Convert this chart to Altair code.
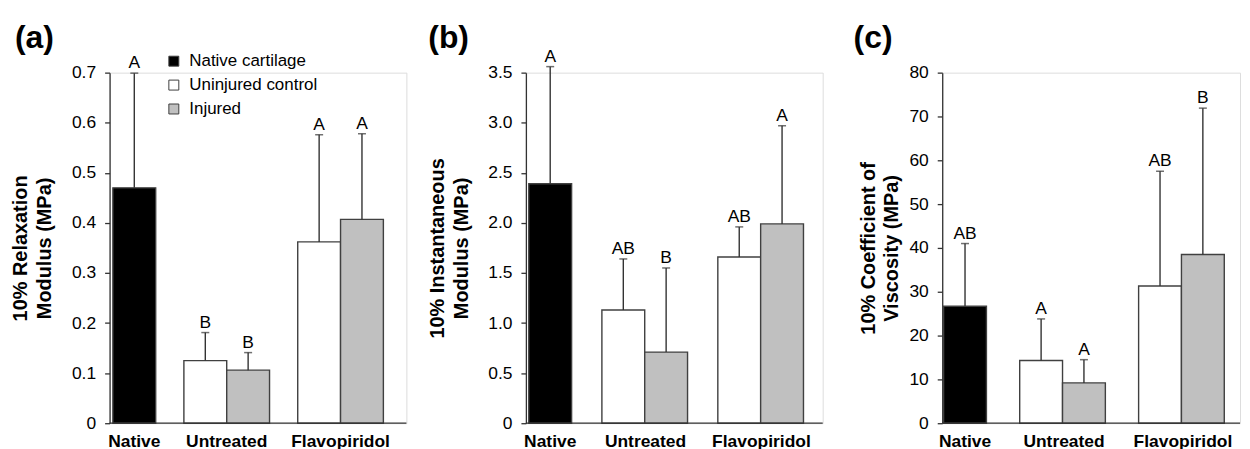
import altair as alt
import pandas as pd

FONT = "Liberation Sans"

groups = ["Native", "Untreated", "Untreated", "Flavopiridol", "Flavopiridol"]
series = ["Native cartilage", "Uninjured control", "Injured", "Uninjured control", "Injured"]

relax_mean = [0.470, 0.125, 0.106, 0.362, 0.407]
relax_upper = [0.699, 0.181, 0.141, 0.576, 0.578]
relax_letters = ["A", "B", "B", "A", "A"]

inst_mean = [2.39, 1.13, 0.71, 1.66, 1.99]
inst_upper = [3.56, 1.64, 1.55, 1.96, 2.97]
inst_letters = ["A", "AB", "B", "AB", "A"]

visc_mean = [26.7, 14.3, 9.2, 31.3, 38.5]
visc_upper = [41.0, 23.8, 14.5, 57.5, 71.9]
visc_letters = ["AB", "A", "A", "AB", "B"]

group_labels = ["Native", "Untreated", "Flavopiridol"]
series_names = ["Native cartilage", "Uninjured control", "Injured"]
series_colors = ["#000000", "#ffffff", "#c0c0c0"]

HEIGHT = 352
DARK = "#333333"


def panel(mean, upper, letters, tag, ytitle, ydomain, yticks, label_expr,
          title_pad, tag_x, width, start0, step, bw, show_legend):
    df = pd.DataFrame({"group": groups, "series": series, "mean": mean,
                       "upper": upper, "letter": letters})
    band = 2 * bw
    xscale = alt.Scale(domain=group_labels, range=[start0, start0 + 2 * step + band],
                       paddingInner=(step - band) / step, paddingOuter=0)
    x = alt.X("group:N", scale=xscale, axis=None)
    xo = alt.XOffset("slot:N", scale=alt.Scale(domain=["L", "R"], paddingInner=0, paddingOuter=0))
    axis_kw = dict(values=yticks, title=ytitle, titleFontSize=20, titleFontWeight="bold",
                   titleFont=FONT, titleColor="black", titleLineHeight=24,
                   titlePadding=title_pad, labelFontSize=17.5, labelFont=FONT,
                   labelColor="black", labelPadding=9, tickSize=5, tickColor=DARK,
                   tickWidth=1.3, domainColor=DARK, domainWidth=1.3, grid=False)
    if label_expr:
        axis_kw["labelExpr"] = label_expr
    y = alt.Y("mean:Q", scale=alt.Scale(domain=ydomain, nice=False, zero=True),
              axis=alt.Axis(**axis_kw))
    if show_legend:
        legend = alt.Legend(orient="none", legendX=56, legendY=-20, title=None,
                            symbolType="square", symbolSize=100,
                            symbolStrokeColor="#404040", symbolStrokeWidth=1,
                            labelFontSize=17, labelFont=FONT, labelColor="black",
                            rowPadding=6, labelOffset=7, padding=0)
    else:
        legend = None
    fill = alt.Fill("series:N", scale=alt.Scale(domain=series_names, range=series_colors),
                    legend=legend)

    base = alt.Chart(df).transform_calculate(
        slot="datum.series === 'Uninjured control' ? 'L' : 'R'")
    bars = base.mark_bar(stroke="#404040", strokeWidth=1.4).encode(
        x=x, xOffset=xo, y=y, fill=fill)
    err = base.mark_rule(color=DARK, strokeWidth=1.4).encode(
        x=x, xOffset=xo, y="mean:Q", y2="upper:Q")
    cap = base.mark_tick(color=DARK, thickness=1.5, size=8, orient="horizontal").encode(
        x=x, xOffset=xo, y="upper:Q")
    letters_layer = base.mark_text(fontSize=17.5, font=FONT, baseline="alphabetic", dy=-5,
                                   color="black").encode(
        x=x, xOffset=xo, y="upper:Q", text="letter:N")

    zero_rule = alt.Chart(pd.DataFrame({"zero": [0]})).mark_rule(
        color=DARK, strokeWidth=1.3).encode(
        y="zero:Q", x=alt.value(0), x2=alt.value(width))

    lab_df = pd.DataFrame({"group": group_labels})
    lab_style = dict(fontSize=17.5, font=FONT, fontWeight="bold", baseline="alphabetic",
                     color="black")
    lab_native = alt.Chart(lab_df).transform_filter("datum.group === 'Native'").transform_calculate(
        slot="'R'").mark_text(**lab_style).encode(
        x=x, xOffset=xo, y=alt.value(HEIGHT + 24), text="group:N")
    lab_other = alt.Chart(lab_df).transform_filter("datum.group !== 'Native'").mark_text(
        **lab_style).encode(x=x, y=alt.value(HEIGHT + 24), text="group:N")

    tag_layer = alt.Chart(pd.DataFrame({"tag": [tag]})).mark_text(
        fontSize=32, font=FONT, fontWeight="bold", align="left", baseline="alphabetic",
        color="black").encode(x=alt.value(tag_x), y=alt.value(-25), text="tag:N")

    return alt.layer(bars, err, cap, letters_layer, zero_rule, lab_native, lab_other,
                     tag_layer).properties(width=width, height=HEIGHT)


pa = panel(relax_mean, relax_upper, relax_letters, "(a)",
           ["10% Relaxation", "Modulus (MPa)"], [0, 0.7],
           [0, 0.1, 0.2, 0.3, 0.4, 0.5, 0.6, 0.7],
           "datum.value == 0 ? '0' : format(datum.value, '.1f')",
           17, -95, 298, -39.7, 114.3, 43, True)
pb = panel(inst_mean, inst_upper, inst_letters, "(b)",
           ["10% Instantaneous", "Modulus (MPa)"], [0, 3.5],
           [0, 0.5, 1.0, 1.5, 2.0, 2.5, 3.0, 3.5],
           "datum.value == 0 ? '0' : format(datum.value, '.1f')",
           16, -98, 298, -40.1, 116.4, 43.8, False)
pc = panel(visc_mean, visc_upper, visc_letters, "(c)",
           ["10% Coefficient of", "Viscosity (MPa)"], [0, 80],
           [0, 10, 20, 30, 40, 50, 60, 70, 80], None,
           7, -89, 299, -41.6, 119.4, 44.5, False)

chart = alt.hconcat(pa, pb, pc, spacing=120, bounds="flush").resolve_scale(
    fill="independent", x="independent", y="independent").properties(
    padding={"left": 2, "top": 12, "right": 0, "bottom": 0}
).configure_view(stroke=None).configure(background="white")

chart.save("out.html", embed_options={"renderer": "svg", "actions": False})
